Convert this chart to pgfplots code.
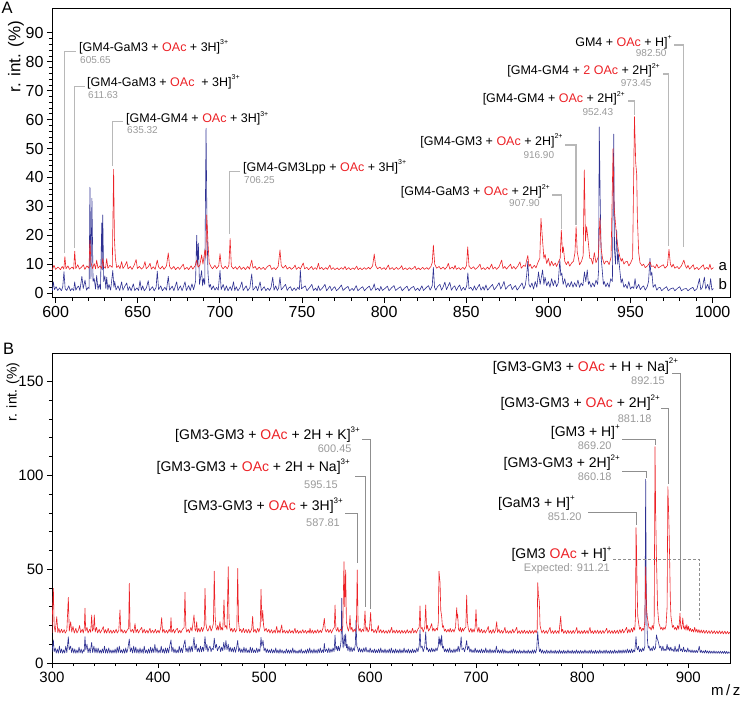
\documentclass[border=0pt]{standalone}
\usepackage{fontspec}
\setmainfont{Liberation Sans}
\usepackage{pgfplots}
\pgfplotsset{compat=1.18}
\definecolor{specred}{HTML}{EC2227}
\definecolor{specblue}{HTML}{2E3192}
\definecolor{leadA}{HTML}{B8B8B8}
\definecolor{leadB}{HTML}{8F8F8F}
\definecolor{numgray}{HTML}{9A9A9A}
\newcommand{\oac}{\textcolor{specred}{OAc}}
\newcommand{\supA}[1]{\raisebox{0.52em}{\fontsize{7}{8}\selectfont #1}}
\newcommand{\supB}[1]{\raisebox{0.52em}{\fontsize{8}{9}\selectfont #1}}
\newcommand{\fA}{\fontsize{12.5}{14}\selectfont}
\newcommand{\fAn}{\fontsize{10}{12}\selectfont\color{numgray}}
\newcommand{\fB}{\fontsize{14}{16}\selectfont}
\newcommand{\fBn}{\fontsize{11}{13}\selectfont\color{numgray}}
\pgfplotsset{spec/.style={
  scale only axis, width=678pt,
  axis line style={line width=1pt, black},
  tick style={black, line width=0.8pt},
  tick align=outside, major tick length=5pt, minor tick length=3pt,
  xtick pos=left, ytick pos=left,
  /pgf/number format/assume math mode=true,
  /pgf/number format/1000 sep={},
  scaled ticks=false, enlargelimits=false,
  no markers, clip=true,
  every axis plot/.append style={line width=0.6pt, line join=round},
}}
\begin{document}
\begin{tikzpicture}
\useasboundingbox (0pt,0pt) rectangle (745pt,-702pt);
% ---------------- Panel A ----------------
\begin{axis}[spec, at={(52pt,-297.7pt)}, anchor=south west, height=289.7pt,
  xmin=597.8, xmax=1010.6, ymin=-1.6, ymax=98.6,
  xtick={600,650,...,1000}, minor x tick num=4,
  ytick={0,10,...,90}, minor y tick num=4,
  tick label style={font=\fontsize{16}{18}\selectfont}]
\addplot[specblue] coordinates {
(598,0.8) (598.6,3.9) (599.3,1.2) (600.3,2.2) (601.3,0.9) (602.5,1.8) (603.5,0.8) (604.3,2.0) (605.1,7.4) (605.8,1.5)
(606.8,0.9) (608,2.5) (609,0.8) (610,1.6) (611,0.9) (611.6,3.9) (612.3,1.0) (613.2,2.0) (614,2.4) (614.8,0.9)
(616,5.8) (616.8,1.6) (617.9,4.5) (618.8,1.0) (619.8,2.0) (620.4,1.5) (620.9,36.6) (621.5,5) (622.1,32.8) (622.8,4)
(623.5,5) (624.3,1.4) (625,6.1) (625.8,1.2) (626.5,3) (627.3,1.3) (628.1,24.3) (628.4,8) (628.7,27) (629.3,4)
(630,6) (630.6,1.5) (631.1,5.5) (631.8,1.2) (632.5,3) (633.5,1.0) (634.8,7.8) (635.5,2) (636,4) (636.8,1.1)
(638,2.5) (639,0.9) (640.2,3.9) (641,1.0) (642,2.2) (643.3,3.5) (644.1,0.9) (645,2.2) (646,0.8) (647.3,3.2)
(648.2,0.9) (649.5,1.8) (650.5,0.9) (651.4,4.3) (652.2,1.0) (653,2.5) (654,0.8) (655.3,1.8) (656.4,4.3) (657.2,0.9)
(658.2,1.6) (659,2.2) (660,0.8) (661.2,2) (661.9,7.6) (662.7,1.2) (664,2.5) (665,0.8) (666.5,2.0) (667.5,1.0)
(668.6,5.8) (669.4,1.0) (670.3,1.8) (671,2.4) (672,0.8) (673.7,3.9) (674.5,0.9) (676,2.5) (677,0.8) (678.8,3.9)
(679.6,0.9) (681,2.6) (682,0.9) (683,3.2) (684,1.2) (685.2,4) (685.9,20) (686.4,10) (686.9,17.3) (687.6,3)
(688.9,7.8) (689.5,2.5) (690,5) (690.8,3) (691.6,57) (692.2,20) (692.8,6.6) (693.5,2) (694.2,3) (695,1.2)
(696,2.5) (697,1.0) (698,2.0) (699,1.0) (700.1,7.8) (700.8,1.2) (702,3) (703,0.9) (704,2.5) (705,0.8)
(706.3,2.2) (707.2,0.9) (708.3,3.9) (709.1,0.9) (710,2.2) (711,0.8) (712.2,1.8) (713.4,3.9) (714.2,0.9) (715,1.6)
(716,2.5) (717,0.8) (718.3,1.9) (719.4,6.6) (720.2,1.0) (721.3,1.8) (722,2.4) (723,0.8) (724.5,3.9) (725.3,0.9)
(726.2,1.6) (727,2.2) (728,0.8) (729.2,1.7) (730.3,0.9) (731.2,2.0) (732.2,5.5) (733,1.0) (734,2.5) (735,0.9)
(735.8,1.8) (736.6,5.5) (737.4,1.1) (738.6,2.0) (740,3) (741,0.9) (742,1.8) (743,2.2) (744,0.8) (745.3,1.8)
(746.3,0.9) (747.5,2.0) (748.4,1.2) (749,8) (749.7,1.5) (750.8,2.0) (752,2.5) (753,0.8) (754.5,1.8) (756,3)
(757,0.9) (758.3,1.7) (759.2,0.8) (760,2.5) (761,0.9) (762.5,1.8) (764,3) (765,0.8) (766,1.6) (767,2.4)
(768,0.9) (769.2,1.8) (770,2.2) (771,0.8) (772.5,1.6) (774,2.8) (775,0.9) (776.5,1.7) (778,2.3) (779,0.8)
(780.5,1.6) (781.5,0.9) (783,2.6) (784,0.8) (785.5,1.6) (787,2.2) (788,0.8) (789.5,1.7) (791,2.4) (792,0.9)
(793.2,1.8) (794,3.2) (794.8,1.0) (796.2,1.7) (797.2,0.8) (798,2.3) (799,0.9) (800.5,1.6) (802,2.4) (803,0.8)
(804.5,1.8) (806,2.6) (807,0.9) (808.5,1.6) (810,2.2) (811,0.8) (812.5,1.7) (814,2.4) (815,0.8) (816.5,1.8)
(818,2.3) (819,0.9) (820.5,1.7) (821.5,0.8) (823,2.5) (824,0.9) (825.5,1.8) (827,2.6) (828,1.0) (829.3,2.5)
(830,8.9) (830.7,2) (831.5,1.0) (832.5,2.2) (834,3) (835,1.0) (836,2.2) (837,3.8) (838,1.2) (839,2.5)
(840,3.7) (841,1.0) (842,2.0) (843,2.5) (844,0.9) (845,2.0) (846,2.8) (847,0.9) (848.3,2.0) (849.3,1.0)
(850.3,2.5) (851,7) (851.7,1.5) (852.8,2.0) (854,0.9) (855,2.5) (856,1.0) (857,2.0) (858,3) (859,1.0)
(860.2,2.2) (861,1.0) (862,2.8) (863,1.0) (864.5,2.0) (866,3) (867,1.1) (868.5,2.2) (870,3.6) (871,1.4)
(872,2.5) (873,4) (874,1.3) (875.5,2.4) (877,3) (878,1.2) (879,2.0) (880,2.6) (881,1.0) (882.5,2.2)
(884,3.5) (885,1.4) (886,2.8) (886.8,6.2) (887.5,11) (888.2,3) (889,2.0) (890,3.5) (891,1.4) (892,4)
(893,2.0) (894,7.3) (895,3) (896.5,8) (897.3,3) (898,5.5) (899,2.5) (900,4) (901,2.0) (902,5)
(903,2.5) (904,4.5) (905,2.2) (906,3.5) (907,11.4) (907.6,6) (908.2,7) (909,3) (910,5) (911,2.0)
(912,3.5) (913,2.2) (914,4) (915,2.0) (916,3.6) (917,2.2) (918,4.5) (919,2.0) (920,3.5) (921,2.5)
(922,7.3) (922.8,4) (923.7,8) (924.4,3) (925,4) (926,2.0) (927,3.5) (928,2.2) (929,4.5) (930,3)
(930.6,8) (931,57.5) (931.6,31) (932.2,12) (932.8,8) (933.5,3) (934,4) (935,2.2) (936,3.5) (937,2.0)
(938,5) (939,4) (939.8,55) (940.3,14.9) (940.9,10) (941.6,21.8) (942.2,10) (942.6,13.5) (943.5,8) (944.3,3.5)
(945,5) (946,2.0) (947,3) (948,1.6) (949,4) (950,1.4) (951,2.2) (952,1.6) (952.8,5) (953.6,1.5)
(955,3) (956,1.2) (957,2.0) (958,2.5) (959,1.0) (960.2,2.2) (961,4) (961.9,12) (962.4,6) (963,7.3)
(963.8,2) (965,3) (966,1.0) (967,1.8) (968,2) (969,0.8) (970.5,1.6) (972,2.2) (973,0.8) (974.5,1.5)
(976,1.8) (977,0.8) (978.5,1.6) (980,2.2) (981,0.8) (982.5,1.4) (984,1.6) (985,0.8) (986.5,1.5) (988,2)
(989,0.8) (990.5,1.5) (992,5) (992.8,1.2) (993.8,2.0) (995,5.5) (995.8,1.4) (997,3) (998,1.0) (998.8,5)
(999.6,1.0) (1000.5,1.6)};
\addplot[specred] coordinates {
(598,8.1) (599,9.6) (600,8.2) (601.5,9.0) (603,8.1) (604,9.2) (605,8.3) (605.65,12.6) (606.3,8.4) (607.5,9.4)
(608.5,8.2) (610,9.0) (611,8.3) (611.63,14.5) (612.3,8.5) (613.5,9.8) (614.5,8.3) (616,9.1) (616.9,9.8) (617.8,8.2)
(619,9.4) (620.3,8.6) (620.9,18.3) (621.5,10.5) (622.5,8.5) (623.5,10.2) (624.3,8.4) (625,11.4) (625.8,8.6) (627,9.4)
(628,8.5) (628.7,11.9) (629.4,9) (630.4,8.6) (631.1,11.9) (631.8,8.6) (633,9.6) (634.5,8.9) (635.32,42.8) (635.8,19)
(636.4,12) (637.2,8.8) (638.3,9.5) (639.2,8.4) (640.2,10.9) (641,8.5) (642.3,9.6) (643.3,10.9) (644.1,8.4) (645.5,9.2)
(646.5,8.2) (647.8,9.6) (649,11.6) (649.8,8.5) (651,9.2) (652.3,8.3) (653.5,9.0) (654.4,10.9) (655.2,8.4) (656.5,9.2)
(657.5,10.3) (658.3,8.3) (659.5,9.1) (660.6,8.2) (661.9,11.4) (662.7,9) (663.8,8.4) (665,9.3) (666,8.2) (667.5,9.4)
(668.6,13.9) (669.4,9.2) (670.5,8.3) (672,9.2) (673,8.1) (674.5,9.0) (675.5,8.2) (676.8,9.3) (677.7,10) (678.5,8.2)
(680,8.9) (681,8.1) (682.5,9.4) (683.5,8.3) (685,9.5) (685.9,11.4) (686.7,9) (687.8,9.6) (688.9,13.2) (689.7,10)
(690.9,14.9) (691.5,12) (692,27) (692.8,17) (693.5,10.5) (694.5,9.2) (695.5,8.4) (697,9.6) (698,8.5) (699.3,9.4)
(700.1,13.6) (700.9,9.2) (702,8.4) (703.3,9.3) (704.5,8.4) (705.5,9.6) (706.25,18.9) (707,9.3) (708.2,8.4) (709.5,9.1)
(710.5,8.2) (712,9.3) (713,8.2) (714.5,9.0) (715.5,8.1) (717,9.2) (718,8.3) (719.4,11.4) (720.2,8.6) (721.5,9.2)
(722.5,8.1) (724,9.0) (725,8.2) (726.5,8.9) (727.5,8.1) (729,9.2) (730.5,9.7) (731.5,8.2) (733,8.8) (734,8.1)
(735.5,9.2) (736.6,14.9) (737.4,9.5) (738.5,8.6) (740,9.6) (741,8.3) (742.5,9.0) (743.5,8.2) (745,8.9) (745.8,9.7)
(746.6,8.2) (748,9.0) (749,8.3) (750,9.5) (750.8,10.4) (751.6,8.4) (753,8.9) (754,8.1) (755.2,8.8) (755.9,9.2)
(756.8,8.1) (758,8.8) (759,8.2) (760,10.3) (760.8,8.3) (762,8.9) (763,8.1) (764.5,8.8) (765.5,8.2) (767,9.7)
(767.8,8.2) (769,8.8) (770,8.1) (771.5,8.7) (772.5,8.1) (774,8.8) (775,8.2) (776.2,9.2) (777,8.1) (778.5,8.8)
(779.5,8.1) (781,8.7) (782,8.2) (783.3,9.3) (784.2,8.1) (785.5,8.7) (786.5,8.1) (788,8.8) (789,8.2) (790.5,8.9)
(791.5,8.3) (793,9.4) (794,13.5) (794.8,9.6) (796,8.4) (797.5,9.0) (798.5,8.2) (800,8.8) (801,8.1) (802.6,9.7)
(803.4,8.2) (805,8.8) (806,8.1) (807.5,8.9) (808.5,8.2) (810,8.8) (810.7,9.5) (811.5,8.1) (813,8.7) (814,8.1)
(815.5,8.8) (816.5,8.2) (818,8.7) (818.8,9.3) (819.6,8.1) (821,8.7) (822,8.1) (823.5,8.9) (824.5,8.2) (826,8.8)
(827,8.2) (828.5,9.2) (829.3,10.5) (830,16.6) (830.8,10) (832,8.6) (833.5,9.2) (834.5,8.3) (836,9.0) (837,8.2)
(838.3,9.1) (839.1,10.3) (840,8.3) (841.5,9.0) (842.4,8.3) (843.2,9.6) (844,8.2) (845.5,8.8) (846.5,8.1) (848,8.9)
(849,8.2) (850.2,9.5) (850.9,16) (851.7,9.3) (853,8.4) (854.5,9.1) (855.5,8.2) (857,8.9) (858.4,10) (859.2,8.2)
(860.5,8.8) (861.5,8.1) (863,9.0) (864,8.2) (865.5,10) (866.3,8.3) (867.5,9.0) (868.5,8.2) (870,9.1) (871.6,11.4)
(872.4,8.5) (873.5,9.2) (874.5,8.3) (876,9.3) (877,10) (877.8,8.4) (879,9.2) (880,8.3) (881.5,9.4) (882.7,10.8)
(883.5,8.6) (885,9.6) (886,9.2) (886.8,11.4) (887.5,13) (888.2,9.2) (889,10) (890,8.5) (891.5,9.6) (892.5,8.7)
(893.8,10.8) (894.8,12) (895.5,25.8) (896.5,18) (897.3,12) (898,13.4) (899,10.2) (900,12) (901,9.3) (902,11)
(903,9.5) (904.2,10.4) (905,9.2) (906.2,10.8) (907.2,12) (907.9,21.8) (908.6,14) (909.1,16) (910,11) (911,9.8)
(912,11) (913,9.3) (914.3,10.5) (915.3,11) (916.2,14) (916.9,23) (917.6,14) (918,13) (919,9.8) (920.2,11)
(921.2,13) (921.9,42.6) (922.6,18) (923.3,23) (924.3,17.8) (925.2,12) (926,12) (927,10) (928,14) (929,10.5)
(930.4,12.5) (931.4,26) (932.2,15) (933,12) (934,10) (935,11) (936,11) (937,9.8) (938.2,12.5) (939.4,50)
(940,30) (940.6,26) (941.6,19) (942.6,15) (943.5,12.5) (944.4,11) (945,12) (946,10) (947,10.8) (948,11)
(949,9.4) (950,10.3) (951.3,12) (952.43,61) (953.2,45) (953.8,41) (954.2,26) (955,14) (955.8,10.5) (957,9.5)
(958,10) (959,8.8) (960.5,9.5) (961.9,10.8) (962.8,9.2) (964,9.4) (965,8.6) (966,10) (967,8.7) (968.5,9.3)
(970,9.8) (971,8.6) (972.5,9.5) (973.45,15.1) (974.3,10) (975.2,9) (976,10) (977,8.6) (978.5,9.2) (979.5,8.4)
(981,9.4) (982.5,11.4) (983.3,9.6) (984.2,8.6) (985,9.6) (986,8.3) (987.2,9.1) (988.2,9.8) (989,8.2) (990.5,8.9)
(991.5,8.1) (993,9.0) (994.3,9.8) (995.1,8.2) (996.5,8.9) (997.5,8.2) (998.4,10) (999.2,8.2) (1000.5,8.8)};
\end{axis}
% ---------------- Panel B ----------------
\begin{axis}[spec, at={(52pt,-663pt)}, anchor=south west, height=310pt,
  xmin=300, xmax=939.3, ymin=0, ymax=165.25,
  xtick={300,400,...,900}, minor x tick num=4,
  ytick={0,50,100,150}, minor y tick num=4,
  tick label style={font=\fontsize{15}{17}\selectfont}]
\addplot[specblue] coordinates {
(300,6) (300.6,9) (301.3,12.3) (302,6) (303,8) (304,5.3) (305,7.5) (306,5.2) (307,9) (308,5.4)
(309,7.5) (310,5.2) (311,7) (312,5.3) (313,9) (314,5.5) (315.4,14) (316.2,7) (317.6,9) (318.5,5.5)
(319.5,8) (320.5,5.3) (321.5,7.5) (322.5,5.2) (323.5,7) (324.5,5.3) (325.5,8.5) (326.5,5.4) (327.5,7.5) (328.5,5.2)
(329.5,7) (330.3,6) (331.1,14) (331.9,7) (333,10) (334,5.5) (335,8) (336,5.4) (337.4,11) (338.3,5.5)
(339.5,9) (340.5,5.4) (341.5,8) (342.5,5.3) (343.5,8) (344.5,5.3) (345.5,7) (346.5,5.2) (347.5,7.5) (348.5,5.4)
(349.5,9) (350.5,5.3) (351.5,7.5) (352.5,5.2) (353.5,8) (354.5,5.3) (355.5,7) (356.5,5.2) (357.5,7) (358.5,5.3)
(359.5,7.5) (360.5,5.2) (361.5,8.5) (362.5,5.4) (363.5,9) (364.5,5.5) (365.5,7) (366.5,5.3) (367.5,7.5) (368.5,5.2)
(369.5,8) (370.5,5.4) (371.5,7.5) (372.9,12.8) (373.8,6) (375,8) (376,5.3) (377,9) (378,5.4) (379,8.5)
(380,5.3) (381,7.5) (382,5.2) (383,8) (384,5.3) (385,7.5) (386,5.2) (387,9) (388,5.4) (389,7)
(390,5.2) (391,7.5) (392,5.3) (393,8.5) (394,5.4) (395,8) (396,5.5) (397,10) (398,5.6) (399,8)
(400,5.3) (401,7) (402,5.4) (403,9) (404,5.5) (405,7.5) (406,5.2) (407,8) (408,5.3) (409,8)
(410,5.4) (411,9) (412.2,12.3) (413,6) (414,8.5) (415,5.5) (416,7.5) (417,5.3) (418,7) (419,5.4)
(420,9) (421,5.6) (422,8) (423,5.5) (424,9) (425.4,12.3) (426.3,6) (427.3,8) (428.3,5.6) (429.3,9)
(430.3,5.8) (431.3,9) (432.3,6) (433.9,13.6) (434.8,7) (436,10) (437,6) (438,8) (439,5.8) (440,9)
(441,6) (442,8.5) (443,6.2) (444.3,14) (445.2,7) (446,10) (447,6) (448,8) (449,9) (450,6)
(451,8) (452,7) (453,13.2) (454,8) (455,10) (456,6.5) (457,8) (458,9) (459,6) (460,8.5)
(461,6.5) (462,11) (463,7) (464,12) (465,7) (466.2,10) (467,6) (468,8.5) (469,6) (470,8)
(471,5.8) (472,8.5) (473,5.7) (474,8) (475.1,12) (476,6) (477,8) (478,5.6) (479,7.5) (480,5.5)
(481,8.5) (482,5.6) (483,8) (484,5.5) (485,7) (486,5.4) (487,8.5) (488,5.5) (489,8) (490,5.6)
(491,7) (492,5.5) (493,8) (494,5.6) (495,7.5) (496,6) (497.1,13.6) (497.8,9) (499,12) (500,6.5)
(501,8) (502,5.6) (503,7.5) (504,5.5) (505,7) (506,5.4) (507,7.5) (508,5.3) (509,7) (510,5.4)
(511,8) (512,5.3) (513,7) (514,5.2) (515,7.5) (516,5.3) (517,7) (518,5.2) (519,6.5) (520,5.2)
(521,7.5) (522,5.3) (523,7) (524,5.2) (525,7) (526,5.3) (527,8) (528,5.3) (529,7) (530,5.2)
(531,6.5) (532,5.2) (533,7) (534,5.3) (535,7.5) (536,5.2) (537,6.5) (538,5.3) (539,7) (540,5.2)
(541,7.5) (542,5.3) (543,8) (544,5.3) (545,7) (546,5.2) (547,7.5) (548,5.3) (549,7) (550,5.2)
(551,7.5) (552,5.4) (553,8) (554,5.5) (555,7) (556,5.6) (556.8,10.5) (557.6,6) (559,7.5) (560,5.5)
(561,8) (562,5.5) (563,7.5) (564,5.8) (565,8) (566,6) (566.9,14.9) (567.7,7) (568.5,9) (569.3,6.5)
(570.2,9) (571,6.5) (572,9) (572.6,12) (573.2,34.5) (573.8,14) (574.5,8) (575.5,15) (576.2,9) (576.9,15.5)
(577.6,8) (578.3,10) (579,6.5) (580,9) (581,6) (582,8.5) (583,6) (584,8) (585,6.5) (586,10)
(586.7,22.9) (587.4,9) (588.2,8) (589,6) (590,8) (591,5.8) (592,7.5) (593,5.7) (594,8) (595,6)
(596,8.5) (597,5.8) (598,7) (599,5.6) (600,8) (601,5.6) (602,7) (603,5.5) (604,7.5) (605,5.4)
(606,7) (607,5.5) (608,7.5) (609,5.4) (610,8) (611,5.5) (612,7) (613,5.4) (614,7.5) (615,5.3)
(616,7) (617,5.4) (618,7.5) (619,5.3) (620,8) (621,5.4) (622,7) (623,5.3) (624,7.5) (625,5.4)
(626,7) (627,5.3) (628,7.5) (629,5.3) (630,7) (631,5.4) (632,8) (633,5.5) (634,7) (635,5.4)
(636,7.5) (637,5.3) (638,7) (639,5.4) (640,7.5) (641,5.5) (642,7) (643,5.6) (644,8) (645,6)
(646.2,9) (647,17.6) (647.8,8) (649,9) (650,6) (651.5,9) (652.4,16.6) (653.2,7) (654,8) (655,6)
(656,7.5) (657,5.8) (658,8) (659,6) (660,7.5) (661,6) (662,8) (663,6.5) (664.2,9) (664.9,14)
(665.5,10) (666,13) (666.7,9) (667.4,14.9) (668.2,8) (669,9) (670,6) (671,7.5) (672,5.8) (673,7.5)
(674,5.6) (675,8) (676,5.6) (677,7) (678,5.5) (679,7.5) (680,5.6) (681,7.5) (682,6) (683,9)
(684,6) (685,9) (685.8,14) (686.6,7) (688,8) (689,6) (690,8.5) (691,12) (691.8,7) (693,9)
(694,5.8) (695,7.5) (696,5.6) (697,7) (698,5.5) (699,8) (700,5.6) (701,7) (702,5.5) (703,7)
(704,5.4) (705,7.5) (706,5.4) (707,7) (708,5.5) (709,8) (710,5.4) (711,7) (712,5.3) (713,7.5)
(714,5.3) (715,7) (716,5.4) (717,7) (718,5.4) (719,9) (720,5.5) (721,7) (722,5.3) (723,7)
(724,5.3) (725,7.5) (726,5.2) (727,7) (728,5.3) (729,6.5) (730,5.2) (731,6.5) (732,5.2) (733,7)
(734,5.2) (735,7.5) (736,5.3) (737,7) (738,5.2) (739,6.5) (740,5.2) (741,7) (742,5.2) (743,6.5)
(744,5.2) (745,7) (746,5.2) (747,6.5) (748,5.1) (749,7) (750,5.2) (751,6.5) (752,5.1) (753,7)
(754,5.2) (755,7) (756,5.3) (757,7.5) (758,16.7) (758.8,10) (759.6,6) (760.5,7.5) (761.5,5.3) (762.5,7)
(763.5,5.2) (764.5,6.5) (765.5,5.1) (766.5,7) (767.5,5.2) (768.5,6.5) (769.5,5.1) (770.5,7) (771.5,5.2) (772.5,6.5)
(773.5,5.1) (774.5,6.8) (775.5,5.1) (776.5,6.5) (777.5,5.1) (778.5,7) (779.5,5.2) (780.5,6.5) (781.5,5.1) (782.5,6.8)
(783.5,5.1) (784.5,6.5) (785.5,5.1) (786.5,7) (787.5,5.2) (788.5,6.5) (789.5,5.1) (790.5,6.8) (791.5,5.1) (792.5,6.5)
(793.5,5.1) (794.5,7) (795.5,5.2) (796.5,6.5) (797.5,5.1) (798.5,6.8) (799.5,5.1) (800.5,6.5) (801.5,5.1) (802.5,7)
(803.5,5.2) (804.5,6.5) (805.5,5.1) (806.5,6.8) (807.5,5.1) (808.5,7) (809.5,5.1) (810.5,6.5) (811.5,5.1) (812.5,6.8)
(813.5,5.1) (814.5,6.5) (815.5,5.1) (816.5,7) (817.5,5.2) (818.5,6.5) (819.5,5.1) (820.5,6.8) (821.5,5.1) (822.5,7)
(823.5,5.2) (824.5,6.5) (825.5,5.1) (826.5,6.8) (827.5,5.1) (828.5,6.5) (829.5,5.2) (830.5,7) (831.5,5.2) (832.5,6.5)
(833.5,5.2) (834.5,7) (835.5,5.2) (836.5,6.8) (837.5,5.2) (838.5,7) (839.5,5.3) (840.5,7) (841.5,5.3) (842.5,7.5)
(843.5,5.4) (844.5,7) (845.5,5.4) (846.5,7.5) (847.5,5.5) (848.5,7) (849.5,6) (850.7,14) (851.4,8) (852.2,7)
(853,9) (854,6) (855,7.5) (856,6) (857,8) (858,6.5) (859,9) (859.8,98) (860.3,40) (860.8,25)
(861.5,12) (862.2,8) (863,9) (864,6.5) (865,8) (866,6.5) (867,9) (868,7) (869,8) (870,15)
(870.7,13) (871.4,12) (872.2,10) (873,8) (874,9) (875,6.5) (876,9) (877,6.5) (878,7.5) (879,6.5)
(880,10) (880.8,7) (881.6,8.5) (882.5,6.5) (883.5,8.5) (884.5,6.5) (885.5,7.5) (886.5,6) (887.5,9) (888.5,6)
(889.5,7.5) (890.5,6) (891.5,10) (892.5,6.5) (893.5,7.5) (894.5,6) (895.5,8.5) (896.5,6) (897.5,7) (898.5,5.8)
(899.5,8) (900.5,5.8) (901.5,7) (902.5,5.6) (903.5,7) (904.5,5.5) (905.5,6.8) (906.5,5.5) (907.5,6.8) (908.5,5.5)
(909.5,7) (910.3,9) (911.2,5.6) (912.2,6.8) (913.2,5.4) (914.2,6.5) (915.2,5.3) (916.2,6.8) (917.2,5.3) (918.2,6.5)
(919.2,5.2) (920.2,6.5) (921.2,5.2) (922.2,6.3) (923.2,5.1) (924.2,6.5) (925.2,5.1) (926.2,6.3) (927.2,5.1) (928.2,6.3)
(929.2,5.1) (930.2,6.3) (931.2,5.1) (932.2,6.2) (933.2,5.1) (934.2,6.3) (935.2,5) (936.2,6.2) (937.2,5) (938.2,6)
(939,5.2)};
\addplot[specred] coordinates {
(300,16) (300.6,30) (301.3,39.8) (302,20) (303,16.5) (304.5,24.7) (305.5,16.2) (306.5,18.5) (307.5,16) (309,18)
(310,16.2) (311.5,17.8) (312.5,15.9) (314,17.5) (315.4,35) (316.3,17) (317.6,22) (318.6,16.5) (319.8,19.5) (321,16)
(322.5,18.5) (323.5,16) (325,17.6) (326,20) (327,16.2) (328.5,18) (329.5,16) (330.5,19) (331.1,29.2) (331.8,17)
(333,19) (334,16) (335.5,18) (336.5,16.3) (337.4,25.6) (338.2,17) (339.2,18.5) (339.9,25.6) (340.7,16.5) (342,19)
(343,16) (344.5,18) (345.5,16) (347,17.6) (348.4,19.4) (349.3,16) (350.5,17.8) (351.5,15.9) (353,18.5) (354,16)
(355.5,17.6) (356.5,15.8) (358,17.5) (359,16) (360.5,18) (361.5,16) (363,17.4) (364.1,28.3) (364.9,16.5) (366,17.8)
(367,16) (368.5,17.5) (369.5,15.9) (371,17.6) (372.3,18.5) (372.9,42.5) (373.6,18) (374.5,16.5) (375.8,18) (377,16)
(378.3,21) (379.2,16.2) (380.5,18) (381.5,16) (383,17.6) (384.6,19) (385.5,16) (387,18) (388,16) (389.5,17.5)
(390.5,15.9) (392.4,18.5) (393.3,16) (394.8,17.5) (396,16) (397.5,18) (398.5,16) (400,17.5) (401,16) (402.5,18.5)
(403.4,24.2) (404.3,16.3) (405.5,18) (406.5,16) (408,17.4) (409,15.9) (410.5,18) (411.5,16.5) (412.2,24.2) (413,16.2)
(414.5,18) (415.5,16) (417,17.8) (418.2,18.5) (419.2,16) (420.5,17.5) (421.5,16) (423,18) (424.5,18.8) (425.4,37.7)
(426.2,19) (427,16.5) (428.5,18) (429.5,16.2) (431,19) (432,17) (433.9,25.6) (434.8,18) (435.6,17) (436.4,22)
(437.2,16.5) (438.5,18.5) (439.5,16.5) (441,19) (442,16.8) (443.5,19.5) (444.3,39.8) (445.1,21) (446,18) (447,17)
(448,18.5) (449,20) (450,17) (451,18.5) (452.2,21) (453,49) (453.8,25) (454.6,19) (455.5,17.5) (456.3,20)
(457.2,17.5) (458.4,22) (459.2,17.5) (460,19) (461,17.5) (462.2,33.6) (463,19) (464,20) (465,18) (466.2,51.3)
(466.9,24) (467.6,19) (468.5,17) (469.5,18.5) (470.5,16.5) (472,18.5) (473,16.5) (474.3,18) (475.1,50.4) (475.9,22)
(476.8,17) (478,18) (479,16.2) (480.5,18.5) (481.5,16.2) (483,18) (484,16) (485.5,18) (486.5,16) (488.3,18)
(489.2,24.9) (490,16.5) (491.5,18) (492.5,16) (494,18.5) (495,16.5) (496.3,19) (497.1,39.3) (497.9,22) (498.7,28)
(499.5,20) (500.5,17) (502,18.5) (503,16.5) (504.5,18) (505.5,16) (507,17.8) (508,15.9) (509.5,17.5) (510.5,16)
(511.9,19.5) (512.8,16) (514,17.5) (515,16) (516.6,20.3) (517.5,16) (519,17.5) (520,15.9) (521.5,17.3) (522.5,15.8)
(524,17.8) (525,16) (526.5,17.3) (527.5,15.8) (529.1,18.5) (530,15.9) (531.5,17.5) (532.5,15.8) (534,17.2) (535,15.9)
(536.5,17.8) (537.5,16) (539,17.4) (540,15.8) (541.5,17.3) (542.5,16) (543.3,18.5) (544.2,15.9) (545.5,17.5) (546.5,15.8)
(548,17.4) (549,15.9) (550.5,17.8) (551.5,16) (553,17.5) (554,16.2) (555.5,18.5) (556.8,23.8) (557.6,18) (558.5,16.5)
(560,18) (561,16.2) (562.5,17.8) (563.5,16) (565,18) (566.2,19) (566.9,30.9) (567.7,18) (568.5,17) (569.5,19)
(570.5,16.5) (572,18) (573,17) (574.2,19.5) (575.3,54) (576,30) (576.9,49.6) (577.6,22) (578.5,19) (579.5,17)
(580.3,19) (581,25.3) (581.8,17.5) (582.8,19) (583.8,16.5) (585,18) (586,16.8) (587,19) (587.81,49.6) (588.6,21)
(589.5,17) (590.5,18.5) (591.5,16.5) (592.8,18) (594,16.8) (595.15,27.7) (596,17) (597,19) (598,16.5) (599.3,18)
(600.45,27) (601.3,17) (602.5,18) (603.5,16.2) (605,17.8) (606,16) (607.7,20) (608.5,16.2) (610,17.8) (611,16)
(612.5,17.5) (613.5,15.9) (615,17.3) (616,15.8) (617.5,17.6) (618.5,16) (620.3,19) (621.2,16) (622.5,17.5) (623.5,15.9)
(625,17.6) (626,16) (627.5,17.4) (628.5,15.8) (630,17.5) (631,15.9) (632.5,17.3) (633.5,15.8) (635,17.8) (636,16)
(637.5,17.2) (638.5,15.8) (640,18.5) (641,16) (642.5,17.5) (643.5,16) (645,18) (646.2,19) (647,30.4) (647.8,18)
(649,19) (650,16.5) (651.5,19) (652.4,31) (653.2,18) (654,20) (655,17) (656.5,18.5) (658,21) (659,17)
(660,18.5) (661,17) (662.5,18.5) (663.5,17.5) (664.3,22) (664.9,49) (665.5,45) (665.9,43) (666.6,28) (667.4,25)
(668.2,19) (669,20) (670,17) (671,18) (672,16.5) (673.5,18) (674.5,16.5) (675.5,18.5) (676.5,16.5) (678,18)
(679,16.5) (680.5,19) (681.6,29.5) (682.1,24) (682.5,26) (683.3,18) (684.2,17) (685,19) (686,16.5) (687,18.5)
(688,17) (689,18.5) (690.2,19) (691,36.2) (691.7,22) (692.5,18.5) (693.5,16.5) (695,18.5) (696,16.3) (697,18)
(698,16.5) (699,19) (699.8,28.4) (700.6,19) (701.5,16.5) (702.5,19) (703.5,16.2) (705,18) (706,16) (707.5,17.6)
(708.5,16) (710,17.5) (711.4,19.5) (712.2,16) (713.5,17.5) (714.5,15.8) (716,18) (717,16) (718.3,17.6) (719.3,22)
(720.1,16.3) (721.5,18) (722.5,15.9) (724,17.4) (725,15.8) (726.3,17.5) (727.1,19) (728,15.9) (729.5,17.2) (730.5,15.8)
(732,17.3) (733,15.8) (734.5,18) (735.5,16) (737,17.5) (738.2,19) (739,15.8) (740.5,17.2) (741.5,15.7) (743,17.4)
(744,15.8) (745.5,17.5) (746.5,15.8) (748,17.2) (749,15.7) (750.5,17.5) (751.5,15.8) (753,17.3) (754,15.8) (755.5,17.5)
(756.5,16) (757.5,18) (758,42.8) (758.7,36) (759.5,32.6) (760.2,20) (761,18) (762,16) (763.5,17.5) (764.5,15.8)
(766,17.3) (767,15.7) (768.5,17.5) (769.6,19) (770.5,15.8) (772,17.2) (773,15.7) (774.5,17.4) (775.5,15.8) (777,17.2)
(778,15.7) (779.7,25) (780.5,16.5) (781.5,18) (782.5,15.8) (784,17.3) (785,15.7) (786.5,17.5) (787.5,15.8) (789,17.2)
(790,15.7) (791.5,17.4) (792.5,15.8) (794,17.5) (794.8,19) (795.6,15.8) (797,17.3) (798,15.7) (799.5,17.2) (800.5,15.7)
(802,17.4) (803,15.8) (804.5,17.3) (805.5,15.7) (807.3,19) (808.2,15.8) (809.5,17.2) (810.5,15.7) (812,17.4) (813,15.8)
(814.5,17.5) (815.5,15.7) (817,17.3) (818,15.7) (819.5,17.4) (820.5,15.8) (822,17.3) (823,18.5) (824,15.8) (825.5,17.5)
(826.5,15.8) (828,17.3) (829,15.7) (830.5,17.4) (831.5,15.8) (833,17.5) (834,15.7) (835.5,17.8) (836.5,15.9) (838,18)
(839,16) (840.5,17.5) (841.8,19) (842.7,16) (844,18) (845,16.2) (846.5,18.5) (847.5,16.5) (848.5,19) (849.5,17.5)
(850.2,25) (850.7,72.1) (851.2,60) (851.7,41) (852.3,25) (853,22) (854,18) (855,19) (856,17) (857,18.5)
(858,17.5) (859,22) (859.8,51.3) (860.5,30) (861.2,25) (862,22) (863,18.5) (864,19) (865,17.5) (866,20)
(867,18) (867.8,22) (868.6,115.3) (869.2,80) (869.8,60) (870.4,45) (871,30) (871.6,25) (872.3,21) (873,20)
(874,18) (875,19) (876,17.5) (877,19) (878,18) (879,20) (880,30) (880.7,94) (881.3,83) (881.9,70)
(882.4,55) (883,35) (883.6,25) (884.3,22) (885,19) (886,20) (887,18) (888,19) (889,17.5) (890,20)
(891,18) (891.6,22) (892.15,26.5) (892.8,20) (893.5,18) (894.3,21) (894.8,24) (895.5,19) (896.3,18) (897,20)
(897.8,17.5) (898.6,20.5) (899.4,17.5) (900.2,19.5) (901,17) (902,18.5) (903,16.8) (904,18) (905,16.5) (906,19)
(907,16.5) (908,18) (909,16.2) (910,17.8) (911,16) (912.2,17.6) (913.2,16) (914.5,17.5) (915.5,15.8) (917,17.4)
(918,15.8) (919.5,17.2) (920.5,15.7) (922,17.3) (923,15.7) (924.5,17.2) (925.5,15.6) (927,17.1) (928,15.6) (929.5,17.2)
(930.5,15.6) (932,17) (933,15.5) (934.5,17) (935.5,15.5) (937,16.8) (938,15.5) (939,16.5)};
\end{axis}
% ---------------- annotations (1pt = 1px of the reference) ----------------
\begin{scope}[x=1pt,y=-1pt]
\node[anchor=base west, inner sep=0pt, font=\fontsize{16.5}{18}\selectfont] at (1.5,13.3) {A};
\node[anchor=base west, inner sep=0pt, font=\fontsize{16.5}{18}\selectfont] at (3,354) {B};
\node[rotate=90, inner sep=0pt, font=\fontsize{17}{19}\selectfont] at (16,56.7) {r. int. (\%)};
\node[rotate=90, inner sep=0pt, font=\fontsize{14}{16}\selectfont] at (13,391.7) {r. int. (\%)};
\node[anchor=base west, inner sep=0pt, font=\fontsize{15}{17}\selectfont] at (718.5,270.7) {a};
\node[anchor=base west, inner sep=0pt, font=\fontsize{15}{17}\selectfont] at (718.5,289) {b};
\node[anchor=base west, inner sep=0pt, font=\fontsize{15}{17}\selectfont] at (711,695) {m\,/\,z};
% panel A leader lines
\begin{scope}[draw=leadA, line width=1.1pt]
\draw (64.5,253) -- (64.5,51.7) -- (76,51.7);
\draw (74.7,248) -- (74.7,86.7) -- (85,86.7);
\draw (112.8,166) -- (112.8,121.7) -- (123,121.7);
\draw (229.8,234) -- (229.8,171.7) -- (240,171.7);
\draw (674,45) -- (683.6,45) -- (683.6,247);
\draw (663,74) -- (668.8,74) -- (668.8,246);
\draw (628,101) -- (634.8,101) -- (634.8,115);
\draw (565,145) -- (576,145) -- (576,225);
\draw (552,195) -- (561.4,195) -- (561.4,229);
\end{scope}
% panel A labels
\node[anchor=base west, inner sep=0pt, font=\fA] at (79,51.2) {[GM4-GaM3 + \oac{} + 3H]\supA{3+}};
\node[anchor=base west, inner sep=0pt, font=\fAn] at (80,63.6) {605.65};
\node[anchor=base west, inner sep=0pt, font=\fA] at (87,86.2) {[GM4-GaM3 + \oac{}\ \ + 3H]\supA{3+}};
\node[anchor=base west, inner sep=0pt, font=\fAn] at (88,98.6) {611.63};
\node[anchor=base west, inner sep=0pt, font=\fA] at (126,122.8) {[GM4-GM4 + \oac{} + 3H]\supA{3+}};
\node[anchor=base west, inner sep=0pt, font=\fAn] at (127,133.6) {635.32};
\node[anchor=base west, inner sep=0pt, font=\fA] at (243,171.2) {[GM4-GM3Lpp + \oac{} + 3H]\supA{3+}};
\node[anchor=base west, inner sep=0pt, font=\fAn] at (244,183.6) {706.25};
\node[anchor=base east, inner sep=0pt, font=\fA] at (672,46.2) {GM4 + \oac{} + H]\supA{+}};
\node[anchor=base east, inner sep=0pt, font=\fAn] at (666.7,56.9) {982.50};
\node[anchor=base east, inner sep=0pt, font=\fA] at (660,74.5) {[GM4-GM4 + \textcolor{specred}{2 OAc} + 2H]\supA{2+}};
\node[anchor=base east, inner sep=0pt, font=\fAn] at (651.7,86.3) {973.45};
\node[anchor=base east, inner sep=0pt, font=\fA] at (625,102.8) {[GM4-GM4 + \oac{} + 2H]\supA{2+}};
\node[anchor=base east, inner sep=0pt, font=\fAn] at (613.3,115.3) {952.43};
\node[anchor=base east, inner sep=0pt, font=\fA] at (562.7,145.2) {[GM4-GM3 + \oac{} + 2H]\supA{2+}};
\node[anchor=base east, inner sep=0pt, font=\fAn] at (554.3,158.6) {916.90};
\node[anchor=base east, inner sep=0pt, font=\fA] at (550,195.5) {[GM4-GaM3 + \oac{} + 2H]\supA{2+}};
\node[anchor=base east, inner sep=0pt, font=\fAn] at (540,206.9) {907.90};
% panel B leader lines
\begin{scope}[draw=leadB, line width=0.9pt]
\draw (362,439) -- (370.6,439) -- (370.6,609);
\draw (355,476) -- (365,476) -- (365,607);
\draw (345,513.3) -- (357.2,513.3) -- (357.2,563);
\draw (672,373.3) -- (680,373.3) -- (680,611);
\draw (661,408.3) -- (668.3,408.3) -- (668.3,484);
\draw (622,439.3) -- (655.6,439.3) -- (655.6,445);
\draw (622,471) -- (646.1,471) -- (646.1,478);
\draw (588.3,512.7) -- (636.5,512.7) -- (636.5,525);
\draw[dashed, dash pattern=on 3pt off 2pt] (613,559) -- (699.5,559) -- (699.5,620);
\end{scope}
% panel B labels
\node[anchor=base east, inner sep=0pt, font=\fB] at (360,439.3) {[GM3-GM3 + \oac{} + 2H + K]\supB{3+}};
\node[anchor=base east, inner sep=0pt, font=\fBn] at (351.7,452.9) {600.45};
\node[anchor=base east, inner sep=0pt, font=\fB] at (350,471.7) {[GM3-GM3 + \oac{} + 2H + Na]\supB{3+}};
\node[anchor=base east, inner sep=0pt, font=\fBn] at (338,488.9) {595.15};
\node[anchor=base east, inner sep=0pt, font=\fB] at (343,510.7) {[GM3-GM3 + \oac{} + 3H]\supB{3+}};
\node[anchor=base east, inner sep=0pt, font=\fBn] at (340,526.6) {587.81};
\node[anchor=base east, inner sep=0pt, font=\fB] at (678.3,371) {[GM3-GM3 + \oac{} + H + Na]\supB{2+}};
\node[anchor=base east, inner sep=0pt, font=\fBn] at (665,384.6) {892.15};
\node[anchor=base east, inner sep=0pt, font=\fB] at (660,407.7) {[GM3-GM3 + \oac{} + 2H]\supB{2+}};
\node[anchor=base east, inner sep=0pt, font=\fBn] at (651.7,422.2) {881.18};
\node[anchor=base east, inner sep=0pt, font=\fB] at (620,436.7) {[GM3 + H]\supB{+}};
\node[anchor=base east, inner sep=0pt, font=\fBn] at (611.7,449.9) {869.20};
\node[anchor=base east, inner sep=0pt, font=\fB] at (620,467.7) {[GM3-GM3 + 2H]\supB{2+}};
\node[anchor=base east, inner sep=0pt, font=\fBn] at (611.7,480.6) {860.18};
\node[anchor=base east, inner sep=0pt, font=\fB] at (575,507.7) {[GaM3 + H]\supB{+}};
\node[anchor=base east, inner sep=0pt, font=\fBn] at (581.7,520.6) {851.20};
\node[anchor=base east, inner sep=0pt, font=\fB] at (611.7,558.3) {[GM3 \oac{} + H]\supB{+}};
\node[anchor=base east, inner sep=0pt, font=\fBn] at (610,571.6) {Expected: 911.21};
\end{scope}
\end{tikzpicture}
\end{document}
